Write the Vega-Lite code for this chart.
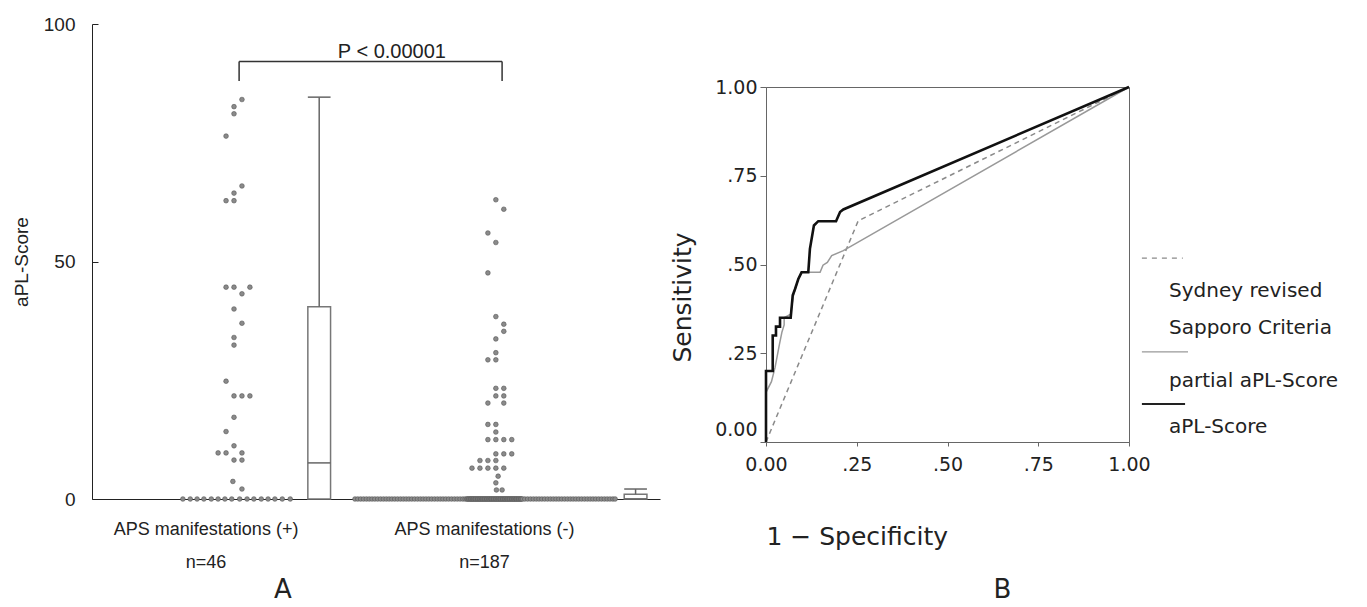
{
  "$schema": "https://vega.github.io/schema/vega-lite/v6.json",
  "background": "white",
  "padding": {"left": 12, "top": 15, "right": 0, "bottom": 0},
  "config": {"view": {"stroke": null}, "font": "Liberation Sans"},
  "datasets": {
    "apl": [
      {"group": "+", "score": 84.1, "pos": 2.64}, {"group": "+", "score": 82.6, "pos": 2.5}, {"group": "+", "score": 81.1, "pos": 2.5}, {"group": "+", "score": 76.4, "pos": 2.36},
      {"group": "+", "score": 65.9, "pos": 2.64}, {"group": "+", "score": 64.4, "pos": 2.5}, {"group": "+", "score": 62.8, "pos": 2.36}, {"group": "+", "score": 62.8, "pos": 2.5},
      {"group": "+", "score": 44.6, "pos": 2.36}, {"group": "+", "score": 44.6, "pos": 2.5}, {"group": "+", "score": 44.6, "pos": 2.78}, {"group": "+", "score": 43.2, "pos": 2.64},
      {"group": "+", "score": 40.0, "pos": 2.5}, {"group": "+", "score": 37.0, "pos": 2.64}, {"group": "+", "score": 34.0, "pos": 2.5}, {"group": "+", "score": 32.4, "pos": 2.5},
      {"group": "+", "score": 24.8, "pos": 2.36}, {"group": "+", "score": 21.7, "pos": 2.5}, {"group": "+", "score": 21.7, "pos": 2.64}, {"group": "+", "score": 21.7, "pos": 2.78},
      {"group": "+", "score": 17.2, "pos": 2.5}, {"group": "+", "score": 14.2, "pos": 2.36}, {"group": "+", "score": 11.2, "pos": 2.5},
      {"group": "+", "score": 9.7, "pos": 2.22}, {"group": "+", "score": 9.7, "pos": 2.36}, {"group": "+", "score": 9.7, "pos": 2.64},
      {"group": "+", "score": 8.2, "pos": 2.5}, {"group": "+", "score": 8.2, "pos": 2.64}, {"group": "+", "score": 3.7, "pos": 2.48}, {"group": "+", "score": 2.1, "pos": 2.64},
      {"group": "+", "score": 0, "pos": 1.6}, {"group": "+", "score": 0, "pos": 1.73}, {"group": "+", "score": 0, "pos": 1.85}, {"group": "+", "score": 0, "pos": 1.97},
      {"group": "+", "score": 0, "pos": 2.1}, {"group": "+", "score": 0, "pos": 2.22}, {"group": "+", "score": 0, "pos": 2.34}, {"group": "+", "score": 0, "pos": 2.46},
      {"group": "+", "score": 0, "pos": 2.6}, {"group": "+", "score": 0, "pos": 2.73}, {"group": "+", "score": 0, "pos": 2.85}, {"group": "+", "score": 0, "pos": 2.98},
      {"group": "+", "score": 0, "pos": 3.1}, {"group": "+", "score": 0, "pos": 3.22}, {"group": "+", "score": 0, "pos": 3.35}, {"group": "+", "score": 0, "pos": 3.49},
      {"group": "-", "score": 63.0, "pos": 7.11}, {"group": "-", "score": 61.0, "pos": 7.25}, {"group": "-", "score": 56.0, "pos": 6.97}, {"group": "-", "score": 54.0, "pos": 7.11},
      {"group": "-", "score": 47.6, "pos": 6.97}, {"group": "-", "score": 38.4, "pos": 7.11}, {"group": "-", "score": 36.8, "pos": 7.25}, {"group": "-", "score": 35.3, "pos": 7.25},
      {"group": "-", "score": 33.7, "pos": 7.11}, {"group": "-", "score": 30.8, "pos": 7.11}, {"group": "-", "score": 29.3, "pos": 6.97}, {"group": "-", "score": 29.3, "pos": 7.11},
      {"group": "-", "score": 23.3, "pos": 7.11}, {"group": "-", "score": 23.3, "pos": 7.25}, {"group": "-", "score": 21.7, "pos": 7.11}, {"group": "-", "score": 21.7, "pos": 7.25},
      {"group": "-", "score": 20.2, "pos": 6.97}, {"group": "-", "score": 20.2, "pos": 7.25}, {"group": "-", "score": 15.7, "pos": 6.97}, {"group": "-", "score": 15.7, "pos": 7.11},
      {"group": "-", "score": 14.1, "pos": 7.11}, {"group": "-", "score": 12.5, "pos": 6.97}, {"group": "-", "score": 12.5, "pos": 7.11}, {"group": "-", "score": 12.5, "pos": 7.25},
      {"group": "-", "score": 12.5, "pos": 7.39}, {"group": "-", "score": 9.5, "pos": 7.11}, {"group": "-", "score": 9.5, "pos": 7.25}, {"group": "-", "score": 9.5, "pos": 7.39},
      {"group": "-", "score": 8.1, "pos": 6.83}, {"group": "-", "score": 8.1, "pos": 6.97}, {"group": "-", "score": 8.1, "pos": 7.11},
      {"group": "-", "score": 6.5, "pos": 6.69}, {"group": "-", "score": 6.5, "pos": 6.83}, {"group": "-", "score": 6.5, "pos": 6.97}, {"group": "-", "score": 6.5, "pos": 7.11}, {"group": "-", "score": 6.5, "pos": 7.25},
      {"group": "-", "score": 4.8, "pos": 7.15}, {"group": "-", "score": 3.4, "pos": 7.11}, {"group": "-", "score": 1.9, "pos": 7.12}, {"group": "-", "score": 1.9, "pos": 7.22},
      {"group": "-", "score": 0, "pos": 4.63}, {"group": "-", "score": 0, "pos": 4.68}, {"group": "-", "score": 0, "pos": 4.73}, {"group": "-", "score": 0, "pos": 4.78}, {"group": "-", "score": 0, "pos": 4.83},
      {"group": "-", "score": 0, "pos": 4.88}, {"group": "-", "score": 0, "pos": 4.93}, {"group": "-", "score": 0, "pos": 4.98}, {"group": "-", "score": 0, "pos": 5.03}, {"group": "-", "score": 0, "pos": 5.08},
      {"group": "-", "score": 0, "pos": 5.13}, {"group": "-", "score": 0, "pos": 5.18}, {"group": "-", "score": 0, "pos": 5.23}, {"group": "-", "score": 0, "pos": 5.28}, {"group": "-", "score": 0, "pos": 5.33},
      {"group": "-", "score": 0, "pos": 5.38}, {"group": "-", "score": 0, "pos": 5.43}, {"group": "-", "score": 0, "pos": 5.48}, {"group": "-", "score": 0, "pos": 5.53}, {"group": "-", "score": 0, "pos": 5.58},
      {"group": "-", "score": 0, "pos": 5.63}, {"group": "-", "score": 0, "pos": 5.68}, {"group": "-", "score": 0, "pos": 5.73}, {"group": "-", "score": 0, "pos": 5.78}, {"group": "-", "score": 0, "pos": 5.83},
      {"group": "-", "score": 0, "pos": 5.88}, {"group": "-", "score": 0, "pos": 5.93}, {"group": "-", "score": 0, "pos": 5.98}, {"group": "-", "score": 0, "pos": 6.03}, {"group": "-", "score": 0, "pos": 6.08},
      {"group": "-", "score": 0, "pos": 6.13}, {"group": "-", "score": 0, "pos": 6.18}, {"group": "-", "score": 0, "pos": 6.23}, {"group": "-", "score": 0, "pos": 6.28}, {"group": "-", "score": 0, "pos": 6.33},
      {"group": "-", "score": 0, "pos": 6.38}, {"group": "-", "score": 0, "pos": 6.43}, {"group": "-", "score": 0, "pos": 6.48}, {"group": "-", "score": 0, "pos": 6.53}, {"group": "-", "score": 0, "pos": 6.57},
      {"group": "-", "score": 0, "pos": 6.6}, {"group": "-", "score": 0, "pos": 6.61}, {"group": "-", "score": 0, "pos": 6.63}, {"group": "-", "score": 0, "pos": 6.64}, {"group": "-", "score": 0, "pos": 6.66},
      {"group": "-", "score": 0, "pos": 6.67}, {"group": "-", "score": 0, "pos": 6.68}, {"group": "-", "score": 0, "pos": 6.7}, {"group": "-", "score": 0, "pos": 6.71}, {"group": "-", "score": 0, "pos": 6.72},
      {"group": "-", "score": 0, "pos": 6.74}, {"group": "-", "score": 0, "pos": 6.75}, {"group": "-", "score": 0, "pos": 6.76}, {"group": "-", "score": 0, "pos": 6.78}, {"group": "-", "score": 0, "pos": 6.79},
      {"group": "-", "score": 0, "pos": 6.8}, {"group": "-", "score": 0, "pos": 6.82}, {"group": "-", "score": 0, "pos": 6.83}, {"group": "-", "score": 0, "pos": 6.84}, {"group": "-", "score": 0, "pos": 6.86},
      {"group": "-", "score": 0, "pos": 6.87}, {"group": "-", "score": 0, "pos": 6.88}, {"group": "-", "score": 0, "pos": 6.9}, {"group": "-", "score": 0, "pos": 6.91}, {"group": "-", "score": 0, "pos": 6.92},
      {"group": "-", "score": 0, "pos": 6.94}, {"group": "-", "score": 0, "pos": 6.95}, {"group": "-", "score": 0, "pos": 6.96}, {"group": "-", "score": 0, "pos": 6.98}, {"group": "-", "score": 0, "pos": 6.99},
      {"group": "-", "score": 0, "pos": 7.0}, {"group": "-", "score": 0, "pos": 7.02}, {"group": "-", "score": 0, "pos": 7.03}, {"group": "-", "score": 0, "pos": 7.04}, {"group": "-", "score": 0, "pos": 7.06},
      {"group": "-", "score": 0, "pos": 7.07}, {"group": "-", "score": 0, "pos": 7.08}, {"group": "-", "score": 0, "pos": 7.1}, {"group": "-", "score": 0, "pos": 7.11}, {"group": "-", "score": 0, "pos": 7.12},
      {"group": "-", "score": 0, "pos": 7.14}, {"group": "-", "score": 0, "pos": 7.15}, {"group": "-", "score": 0, "pos": 7.16}, {"group": "-", "score": 0, "pos": 7.18}, {"group": "-", "score": 0, "pos": 7.19},
      {"group": "-", "score": 0, "pos": 7.2}, {"group": "-", "score": 0, "pos": 7.22}, {"group": "-", "score": 0, "pos": 7.23}, {"group": "-", "score": 0, "pos": 7.24}, {"group": "-", "score": 0, "pos": 7.26},
      {"group": "-", "score": 0, "pos": 7.27}, {"group": "-", "score": 0, "pos": 7.28}, {"group": "-", "score": 0, "pos": 7.3}, {"group": "-", "score": 0, "pos": 7.31}, {"group": "-", "score": 0, "pos": 7.32},
      {"group": "-", "score": 0, "pos": 7.34}, {"group": "-", "score": 0, "pos": 7.35}, {"group": "-", "score": 0, "pos": 7.36}, {"group": "-", "score": 0, "pos": 7.38}, {"group": "-", "score": 0, "pos": 7.39},
      {"group": "-", "score": 0, "pos": 7.4}, {"group": "-", "score": 0, "pos": 7.42}, {"group": "-", "score": 0, "pos": 7.43}, {"group": "-", "score": 0, "pos": 7.44}, {"group": "-", "score": 0, "pos": 7.46},
      {"group": "-", "score": 0, "pos": 7.47}, {"group": "-", "score": 0, "pos": 7.48}, {"group": "-", "score": 0, "pos": 7.5}, {"group": "-", "score": 0, "pos": 7.51}, {"group": "-", "score": 0, "pos": 7.52},
      {"group": "-", "score": 0, "pos": 7.54}, {"group": "-", "score": 0, "pos": 7.55}, {"group": "-", "score": 0, "pos": 7.56}, {"group": "-", "score": 0, "pos": 7.58},
      {"group": "-", "score": 0, "pos": 7.62}, {"group": "-", "score": 0, "pos": 7.67}, {"group": "-", "score": 0, "pos": 7.72}, {"group": "-", "score": 0, "pos": 7.77}, {"group": "-", "score": 0, "pos": 7.82},
      {"group": "-", "score": 0, "pos": 7.87}, {"group": "-", "score": 0, "pos": 7.92}, {"group": "-", "score": 0, "pos": 7.97}, {"group": "-", "score": 0, "pos": 8.02}, {"group": "-", "score": 0, "pos": 8.07},
      {"group": "-", "score": 0, "pos": 8.12}, {"group": "-", "score": 0, "pos": 8.17}, {"group": "-", "score": 0, "pos": 8.22}, {"group": "-", "score": 0, "pos": 8.27}, {"group": "-", "score": 0, "pos": 8.32},
      {"group": "-", "score": 0, "pos": 8.37}, {"group": "-", "score": 0, "pos": 8.42}, {"group": "-", "score": 0, "pos": 8.47}, {"group": "-", "score": 0, "pos": 8.52}, {"group": "-", "score": 0, "pos": 8.57},
      {"group": "-", "score": 0, "pos": 8.62}, {"group": "-", "score": 0, "pos": 8.67}, {"group": "-", "score": 0, "pos": 8.72}, {"group": "-", "score": 0, "pos": 8.77}, {"group": "-", "score": 0, "pos": 8.82},
      {"group": "-", "score": 0, "pos": 8.87}, {"group": "-", "score": 0, "pos": 8.92}, {"group": "-", "score": 0, "pos": 8.97}, {"group": "-", "score": 0, "pos": 9.02}, {"group": "-", "score": 0, "pos": 9.07},
      {"group": "-", "score": 0, "pos": 9.12}, {"group": "-", "score": 0, "pos": 9.17}, {"group": "-", "score": 0, "pos": 9.21}
    ],
    "boxes": [
      {"group": "+", "left": 3.8, "center": 4.0, "right": 4.2, "lo": 0, "q1": 0, "median": 7.6, "q3": 40.5, "hi": 84.6},
      {"group": "-", "left": 9.37, "center": 9.57, "right": 9.77, "lo": 0, "q1": 0, "median": 0, "q3": 1.0, "hi": 2.1}
    ],
    "bracket": [
      {"from": 2.59, "to": 7.22, "top": 92.1, "bottom": 88.0, "label": "P < 0.00001", "mid": 5.28, "labelY": 94.2}
    ],
    "roc": [
      {"series": "aPL-Score", "order": 1, "fpr": 0, "sens": 0},
      {"series": "aPL-Score", "order": 2, "fpr": 0, "sens": 0.2},
      {"series": "aPL-Score", "order": 3, "fpr": 0.0185, "sens": 0.2},
      {"series": "aPL-Score", "order": 4, "fpr": 0.0185, "sens": 0.3},
      {"series": "aPL-Score", "order": 5, "fpr": 0.0275, "sens": 0.3},
      {"series": "aPL-Score", "order": 6, "fpr": 0.0275, "sens": 0.325},
      {"series": "aPL-Score", "order": 7, "fpr": 0.0386, "sens": 0.325},
      {"series": "aPL-Score", "order": 8, "fpr": 0.0386, "sens": 0.35},
      {"series": "aPL-Score", "order": 9, "fpr": 0.068, "sens": 0.35},
      {"series": "aPL-Score", "order": 10, "fpr": 0.0736, "sens": 0.413},
      {"series": "aPL-Score", "order": 11, "fpr": 0.08, "sens": 0.431},
      {"series": "aPL-Score", "order": 12, "fpr": 0.089, "sens": 0.459},
      {"series": "aPL-Score", "order": 13, "fpr": 0.098, "sens": 0.478},
      {"series": "aPL-Score", "order": 14, "fpr": 0.1165, "sens": 0.478},
      {"series": "aPL-Score", "order": 15, "fpr": 0.121, "sens": 0.544},
      {"series": "aPL-Score", "order": 16, "fpr": 0.132, "sens": 0.61},
      {"series": "aPL-Score", "order": 17, "fpr": 0.144, "sens": 0.622},
      {"series": "aPL-Score", "order": 18, "fpr": 0.193, "sens": 0.622},
      {"series": "aPL-Score", "order": 19, "fpr": 0.204, "sens": 0.648},
      {"series": "aPL-Score", "order": 20, "fpr": 0.213, "sens": 0.655},
      {"series": "aPL-Score", "order": 21, "fpr": 1, "sens": 1},
      {"series": "partial aPL-Score", "order": 1, "fpr": 0, "sens": 0},
      {"series": "partial aPL-Score", "order": 2, "fpr": 0, "sens": 0.14},
      {"series": "partial aPL-Score", "order": 3, "fpr": 0.015, "sens": 0.17},
      {"series": "partial aPL-Score", "order": 4, "fpr": 0.025, "sens": 0.21},
      {"series": "partial aPL-Score", "order": 5, "fpr": 0.037, "sens": 0.275},
      {"series": "partial aPL-Score", "order": 6, "fpr": 0.044, "sens": 0.31},
      {"series": "partial aPL-Score", "order": 7, "fpr": 0.05, "sens": 0.33},
      {"series": "partial aPL-Score", "order": 8, "fpr": 0.05, "sens": 0.35},
      {"series": "partial aPL-Score", "order": 9, "fpr": 0.068, "sens": 0.36},
      {"series": "partial aPL-Score", "order": 10, "fpr": 0.075, "sens": 0.41},
      {"series": "partial aPL-Score", "order": 11, "fpr": 0.089, "sens": 0.459},
      {"series": "partial aPL-Score", "order": 12, "fpr": 0.098, "sens": 0.478},
      {"series": "partial aPL-Score", "order": 13, "fpr": 0.149, "sens": 0.478},
      {"series": "partial aPL-Score", "order": 14, "fpr": 0.157, "sens": 0.498},
      {"series": "partial aPL-Score", "order": 15, "fpr": 0.169, "sens": 0.506},
      {"series": "partial aPL-Score", "order": 16, "fpr": 0.181, "sens": 0.525},
      {"series": "partial aPL-Score", "order": 17, "fpr": 0.213, "sens": 0.539},
      {"series": "partial aPL-Score", "order": 18, "fpr": 1, "sens": 1},
      {"series": "Sydney revised Sapporo Criteria", "order": 1, "fpr": 0, "sens": 0},
      {"series": "Sydney revised Sapporo Criteria", "order": 2, "fpr": 0.254, "sens": 0.623},
      {"series": "Sydney revised Sapporo Criteria", "order": 3, "fpr": 1, "sens": 1}
    ],
    "legendSamples": [
      {"series": "Sydney revised Sapporo Criteria", "line": 4.82},
      {"series": "partial aPL-Score", "line": 7.46},
      {"series": "aPL-Score", "line": 8.93}
    ],
    "legendLabels": [
      {"text": "Sydney revised", "line": 5.75},
      {"text": "Sapporo Criteria", "line": 6.79},
      {"text": "partial aPL-Score", "line": 8.28},
      {"text": "aPL-Score", "line": 9.58}
    ]
  },
  "bounds": "flush",
  "spacing": 106,
  "hconcat": [
    {
      "width": 568,
      "height": 475,
      "title": {"text": "A", "orient": "bottom", "anchor": "middle", "dx": -93, "offset": 6, "fontSize": 26, "font": "DejaVu Sans", "fontWeight": "normal", "color": "#222"},
      "layer": [
        {
          "data": {"name": "boxes"},
          "mark": {"type": "rect", "fill": "white", "stroke": "#777", "strokeWidth": 1.5},
          "encoding": {
            "x": {"field": "left", "type": "quantitative", "scale": {"domain": [0, 10]},
              "axis": {"values": [2.0, 6.9], "labelExpr": "datum.value < 5 ? ['APS manifestations (+)', 'n=46'] : ['APS manifestations (-)', 'n=187']",
                "labelLineHeight": 33, "labelLimit": 0, "ticks": false, "labelPadding": 21, "labelFontSize": 18, "labelFont": "Liberation Sans", "labelColor": "#222",
                "domainColor": "#222", "title": null, "grid": false, "labelFlush": false, "labelOverlap": false}},
            "x2": {"field": "right"},
            "y": {"field": "q1", "type": "quantitative", "scale": {"domain": [0, 100]},
              "axis": {"values": [0, 50, 100], "title": "aPL-Score", "titleFontSize": 19, "titleFont": "Liberation Sans", "titleFontWeight": "normal", "titleColor": "#222", "titlePadding": 12,
                "labelFontSize": 19, "labelFont": "Liberation Sans", "labelColor": "#222", "tickSize": -6, "labelPadding": 23, "domainColor": "#222", "tickColor": "#222", "grid": false}},
            "y2": {"field": "q3"}
          }
        },
        {
          "data": {"name": "boxes"},
          "mark": {"type": "rule", "stroke": "#666", "strokeWidth": 1.5},
          "encoding": {
            "x": {"field": "left", "type": "quantitative"},
            "x2": {"field": "right"},
            "y": {"field": "median", "type": "quantitative"}
          }
        },
        {
          "data": {"name": "boxes"},
          "mark": {"type": "rule", "stroke": "#666", "strokeWidth": 1.5},
          "encoding": {
            "x": {"field": "center", "type": "quantitative"},
            "y": {"field": "q3", "type": "quantitative"},
            "y2": {"field": "hi"}
          }
        },
        {
          "data": {"name": "boxes"},
          "mark": {"type": "rule", "stroke": "#666", "strokeWidth": 1.5},
          "encoding": {
            "x": {"field": "left", "type": "quantitative"},
            "x2": {"field": "right"},
            "y": {"field": "hi", "type": "quantitative"}
          }
        },
        {
          "data": {"name": "apl"},
          "mark": {"type": "circle", "size": 22, "color": "#8a8a8a", "stroke": "#555", "strokeWidth": 0.6, "opacity": 1},
          "encoding": {
            "x": {"field": "pos", "type": "quantitative"},
            "y": {"field": "score", "type": "quantitative"}
          }
        },
        {
          "data": {"name": "bracket"},
          "mark": {"type": "rule", "stroke": "#333", "strokeWidth": 1.5},
          "encoding": {
            "x": {"field": "from", "type": "quantitative"},
            "x2": {"field": "to"},
            "y": {"field": "top", "type": "quantitative"}
          }
        },
        {
          "data": {"name": "bracket"},
          "mark": {"type": "rule", "stroke": "#333", "strokeWidth": 1.5},
          "encoding": {
            "x": {"field": "from", "type": "quantitative"},
            "y": {"field": "top", "type": "quantitative"},
            "y2": {"field": "bottom"}
          }
        },
        {
          "data": {"name": "bracket"},
          "mark": {"type": "rule", "stroke": "#333", "strokeWidth": 1.5},
          "encoding": {
            "x": {"field": "to", "type": "quantitative"},
            "y": {"field": "top", "type": "quantitative"},
            "y2": {"field": "bottom"}
          }
        },
        {
          "data": {"name": "bracket"},
          "mark": {"type": "text", "font": "Liberation Sans", "fontSize": 20, "color": "#222", "baseline": "middle", "align": "center"},
          "encoding": {
            "x": {"field": "mid", "type": "quantitative"},
            "y": {"field": "labelY", "type": "quantitative"},
            "text": {"field": "label"}
          }
        }
      ]
    },
    {
      "bounds": "flush",
      "spacing": 0,
      "vconcat": [
        {
          "width": 363,
          "height": 63,
          "data": {"values": [{"blank": ""}]},
          "mark": {"type": "text"},
          "encoding": {"text": {"field": "blank"}}
        },
        {
          "bounds": "flush",
          "spacing": 12,
          "hconcat": [
            {
              "width": 363,
              "height": 355,
              "view": {"stroke": "#666", "strokeWidth": 1},
              "title": {"text": "B", "orient": "bottom", "anchor": "middle", "dx": 55, "offset": 28, "fontSize": 26, "font": "DejaVu Sans", "fontWeight": "normal", "color": "#222"},
              "data": {"name": "roc"},
              "encoding": {
                "x": {"field": "fpr", "type": "quantitative", "scale": {"domain": [0, 1]},
                  "axis": {"values": [0, 0.25, 0.5, 0.75, 1], "labelExpr": "datum.value == 0 ? '0.00' : datum.value == 1 ? '1.00' : replace(format(datum.value, '.2f'), '0.', '.')",
                    "title": "1 − Specificity", "titleAnchor": "start", "titleFontSize": 25, "titleFont": "DejaVu Sans", "titleFontWeight": "normal", "titleColor": "#222", "titlePadding": 50,
                    "labelFontSize": 19, "labelFont": "DejaVu Sans", "labelColor": "#222", "labelPadding": 9, "tickSize": 4, "labelFlush": false, "labelOverlap": false,
                    "grid": false, "domainColor": "#666", "tickColor": "#666"}},
                "y": {"field": "sens", "type": "quantitative", "scale": {"domain": [0, 1]},
                  "axis": {"values": [0, 0.25, 0.5, 0.75, 1], "labelExpr": "datum.value == 0 ? '0.00' : datum.value == 1 ? '1.00' : replace(format(datum.value, '.2f'), '0.', '.')",
                    "labelOffset": {"condition": {"test": "datum.value === 0", "value": -13}, "value": 0},
                    "title": "Sensitivity", "titleFontSize": 25, "titleFont": "DejaVu Sans", "titleFontWeight": "normal", "titleColor": "#222", "titlePadding": 19, "titleY": 210,
                    "labelFontSize": 19, "labelFont": "DejaVu Sans", "labelColor": "#222", "labelPadding": 3, "tickSize": 6, "labelOverlap": false, "labelFlush": false,
                    "grid": false, "domainColor": "#666", "tickColor": "#666"}},
                "order": {"field": "order", "type": "quantitative"}
              },
              "layer": [
                {
                  "transform": [{"filter": "datum.series === 'Sydney revised Sapporo Criteria'"}],
                  "mark": {"type": "line", "stroke": "#8a8a8a", "strokeWidth": 1.5, "strokeDash": [5, 4]}
                },
                {
                  "transform": [{"filter": "datum.series === 'partial aPL-Score'"}],
                  "mark": {"type": "line", "stroke": "#999", "strokeWidth": 1.5}
                },
                {
                  "transform": [{"filter": "datum.series === 'aPL-Score'"}],
                  "mark": {"type": "line", "stroke": "#111", "strokeWidth": 2.6}
                }
              ]
            },
            {
              "width": 226,
              "height": 355,
              "layer": [
                {
                  "data": {"name": "legendSamples"},
                  "transform": [{"filter": "datum.series === 'Sydney revised Sapporo Criteria'"}],
                  "mark": {"type": "rule", "stroke": "#8a8a8a", "strokeWidth": 1.3, "strokeDash": [5, 5]},
                  "encoding": {
                    "x": {"datum": 0.004, "type": "quantitative", "scale": {"domain": [0, 1]}, "axis": null},
                    "x2": {"datum": 0.185},
                    "y": {"field": "line", "type": "quantitative", "scale": {"domain": [0, 10], "reverse": true}, "axis": null}
                  }
                },
                {
                  "data": {"name": "legendSamples"},
                  "transform": [{"filter": "datum.series === 'partial aPL-Score'"}],
                  "mark": {"type": "rule", "stroke": "#999", "strokeWidth": 1.3},
                  "encoding": {
                    "x": {"datum": 0.004, "type": "quantitative"},
                    "x2": {"datum": 0.208},
                    "y": {"field": "line", "type": "quantitative"}
                  }
                },
                {
                  "data": {"name": "legendSamples"},
                  "transform": [{"filter": "datum.series === 'aPL-Score'"}],
                  "mark": {"type": "rule", "stroke": "#222", "strokeWidth": 2},
                  "encoding": {
                    "x": {"datum": 0.004, "type": "quantitative"},
                    "x2": {"datum": 0.195},
                    "y": {"field": "line", "type": "quantitative"}
                  }
                },
                {
                  "data": {"name": "legendLabels"},
                  "mark": {"type": "text", "font": "DejaVu Sans", "fontSize": 20, "color": "#222", "align": "left", "baseline": "middle"},
                  "encoding": {
                    "x": {"datum": 0.124, "type": "quantitative"},
                    "y": {"field": "line", "type": "quantitative"},
                    "text": {"field": "text"}
                  }
                }
              ]
            }
          ]
        }
      ]
    }
  ]
}
